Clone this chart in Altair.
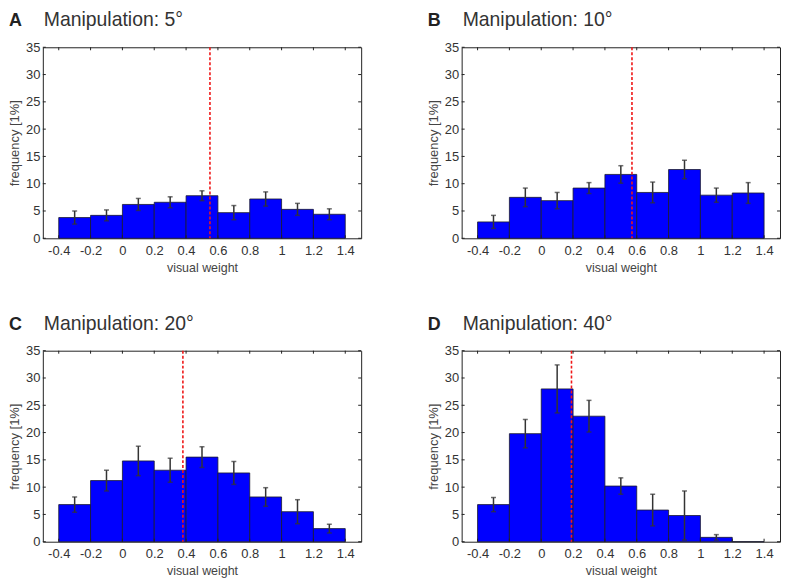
import altair as alt
import pandas as pd

# ---- data ----
bin_starts = [-0.4, -0.2, 0.0, 0.2, 0.4, 0.6, 0.8, 1.0, 1.2]
bin_ends = [-0.2, 0.0, 0.2, 0.4, 0.6, 0.8, 1.0, 1.2, 1.4]
bin_centers = [-0.3, -0.1, 0.1, 0.3, 0.5, 0.7, 0.9, 1.1, 1.3]

panel_letters = ["A", "B", "C", "D"]
manipulations = ["5°", "10°", "20°", "40°"]

freq_A = [3.8, 4.2, 6.2, 6.6, 7.8, 4.7, 7.2, 5.3, 4.4]
err_A = [1.2, 1.0, 1.1, 1.0, 0.9, 1.3, 1.3, 1.1, 1.0]
freq_B = [3.0, 7.5, 6.9, 9.2, 11.7, 8.4, 12.6, 7.9, 8.3]
err_B = [1.2, 1.7, 1.5, 1.0, 1.6, 1.9, 1.7, 1.3, 1.9]
freq_C = [6.8, 11.2, 14.8, 13.1, 15.5, 12.6, 8.2, 5.5, 2.4]
err_C = [1.4, 1.9, 2.7, 2.2, 1.9, 2.1, 1.7, 2.2, 0.8]
freq_D = [6.8, 19.8, 28.0, 23.0, 10.2, 5.8, 4.8, 0.8, 0.0]
err_D = [1.3, 2.6, 4.4, 2.9, 1.5, 2.9, 4.5, 0.5, 0.0]

means = [0.55, 0.57, 0.38, 0.19]

x_ticks = [-0.4, -0.2, 0.0, 0.2, 0.4, 0.6, 0.8, 1.0, 1.2, 1.4]
y_ticks = [0, 5, 10, 15, 20, 25, 30, 35]

freqs = [freq_A, freq_B, freq_C, freq_D]
errs = [err_A, err_B, err_C, err_D]

W = 320
H = 192
FONT = "Liberation Sans"
TXT = "#333333"
TICK = 3

xscale = alt.Scale(domain=[-0.5, 1.5], nice=False, zero=False)
yscale = alt.Scale(domain=[0, 35], nice=False)

label_expr = ("datum.value < 0 ? '-' + format(-datum.value, '.1~f') "
              ": format(datum.value, '.1~f')")

xaxis = alt.Axis(values=x_ticks, ticks=False, domain=False, grid=False,
                 labelExpr=label_expr, labelPadding=6, title="visual weight",
                 labelFont=FONT, labelFontSize=13, labelColor=TXT,
                 titleFont=FONT, titleFontSize=12.5, titleColor="#444444",
                 titleFontWeight="normal", titlePadding=4,
                 labelFlush=False, labelOverlap=False)
yaxis = alt.Axis(values=y_ticks, ticks=False, domain=False, grid=False,
                 labelPadding=3, title="frequency [1%]",
                 labelFont=FONT, labelFontSize=13, labelColor=TXT,
                 titleFont=FONT, titleFontSize=13, titleColor="#444444",
                 titleFontWeight="normal",
                 titlePadding=4, labelFlush=False, labelOverlap=False)


def X(field):
    return alt.X(field, scale=xscale, axis=xaxis)


def Y(field):
    return alt.Y(field, scale=yscale, axis=yaxis)


def panel(i):
    df = pd.DataFrame({
        "start": bin_starts,
        "end": bin_ends,
        "center": bin_centers,
        "freq": freqs[i],
        "err": errs[i],
    })
    df["lo"] = (df["freq"] - df["err"]).clip(lower=0)
    df["hi"] = df["freq"] + df["err"]
    base = alt.Chart(df)

    bars = base.mark_rect(color="#0000FF", stroke="#1a1a2e", strokeWidth=0.8).encode(
        x=X("start:Q"), x2="end:Q", y=Y("freq:Q"), y2=alt.datum(0),
    )

    red = alt.Chart(pd.DataFrame({"m": [means[i]]})).mark_rule(
        color="#F01818", strokeWidth=1.6, strokeDash=[3, 2]
    ).encode(x=X("m:Q"), y=alt.value(0), y2=alt.value(H))

    ebase = base.transform_filter("datum.err > 0")
    erule = ebase.mark_rule(color="#333333", strokeWidth=1.5).encode(
        x=X("center:Q"), y=Y("lo:Q"), y2="hi:Q")
    cap_hi = ebase.mark_tick(color="#333333", orient="horizontal", size=5,
                             thickness=1.5).encode(x=X("center:Q"), y=Y("hi:Q"))
    cap_lo = ebase.mark_tick(color="#333333", orient="horizontal", size=5,
                             thickness=1.5).encode(x=X("center:Q"), y=Y("lo:Q"))

    xt = alt.Chart(pd.DataFrame({"t": x_ticks}))
    yt = alt.Chart(pd.DataFrame({"t": y_ticks}))
    tb = xt.mark_rule(color="#222222", strokeWidth=1).encode(
        x=X("t:Q"), y=alt.value(H), y2=alt.value(H - TICK))
    tt = xt.mark_rule(color="#222222", strokeWidth=1).encode(
        x=X("t:Q"), y=alt.value(0), y2=alt.value(TICK))
    tl = yt.mark_rule(color="#222222", strokeWidth=1).encode(
        y=Y("t:Q"), x=alt.value(0), x2=alt.value(TICK))
    tr = yt.mark_rule(color="#222222", strokeWidth=1).encode(
        y=Y("t:Q"), x=alt.value(W - TICK), x2=alt.value(W))

    tdf = pd.DataFrame({"letter": [panel_letters[i]],
                        "title": ["Manipulation: " + manipulations[i]]})
    tchart = alt.Chart(tdf)
    letter = tchart.mark_text(font=FONT, fontSize=18, fontWeight="bold",
                              color="#222222", align="left",
                              baseline="alphabetic").encode(
        text="letter:N", x=alt.value(-34), y=alt.value(-21))
    title = tchart.mark_text(font=FONT, fontSize=19.5, color="#333333",
                             align="left", baseline="alphabetic").encode(
        text="title:N", x=alt.value(1), y=alt.value(-21))

    return alt.layer(bars, red, erule, cap_hi, cap_lo, tb, tt, tl, tr,
                     letter, title).properties(width=W, height=H)


top = alt.hconcat(panel(0), panel(1), spacing=65)
bottom = alt.hconcat(panel(2), panel(3), spacing=65)
chart = (
    alt.vconcat(top, bottom, spacing=39)
    .properties(padding=0, background="white")
    .configure_view(stroke="#222222", strokeWidth=1)
    .configure_axis(labelFont=FONT, labelFontSize=13, labelColor=TXT,
                    titleFont=FONT, titleColor="#444444",
                    titleFontWeight="normal")
)

chart.save("out.html", embed_options={"renderer": "svg", "actions": False})
